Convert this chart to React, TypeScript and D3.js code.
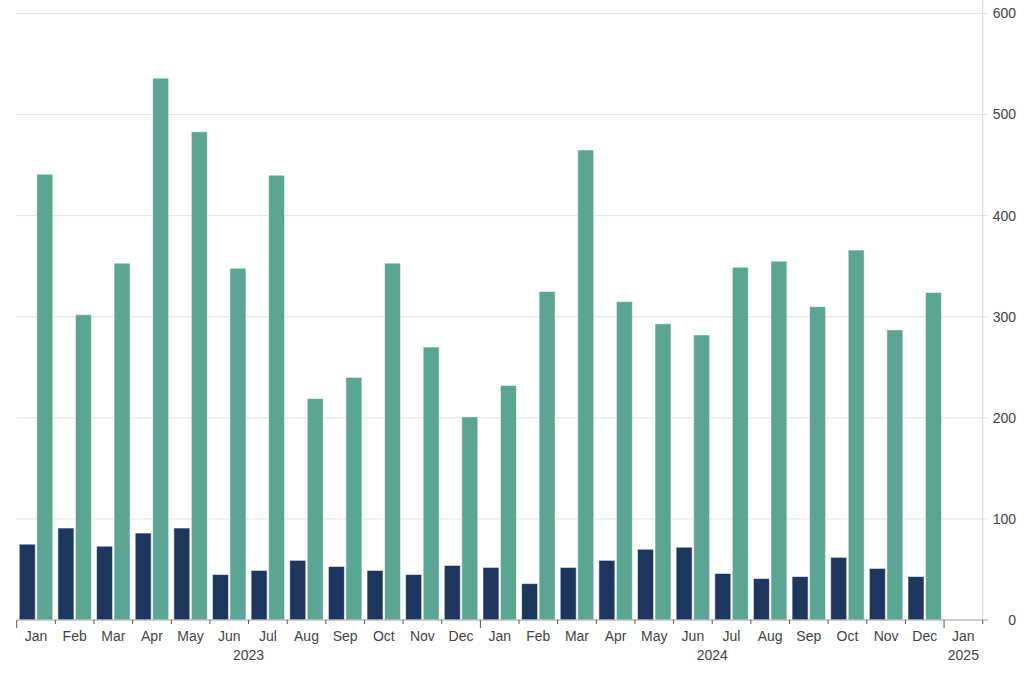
import React from "react";
import * as d3 from "d3";

const months = ["Jan","Feb","Mar","Apr","May","Jun","Jul","Aug","Sep","Oct","Nov","Dec"];
const years = ["2023","2024"];
const slotKeys: string[] = [];
years.forEach(y => months.forEach(m => slotKeys.push(`${m} ${y}`)));
slotKeys.push("Jan 2025");

const seriesA = [75,91,73,86,91,45,49,59,53,49,45,54, 52,36,52,59,70,72,46,41,43,62,51,43];
const seriesB = [441,302,353,536,483,348,440,219,240,353,270,201, 232,325,465,315,293,282,349,355,310,366,287,324];
const yTicks = [0,100,200,300,400,500,600];
const yearLabels = [
  { label: "2023", from: 0, to: 12 },
  { label: "2024", from: 12, to: 24 },
  { label: "2025", from: 24, to: 25 },
];

const W = 1024, H = 675;
const left = 16.7, right = 982.7, top = 13.5, bottom = 620;
const colorA = "#1d365e";
const colorB = "#5ba593";
const textColor = "#444";
const font = "'Liberation Sans', Arial, sans-serif";

export default function App() {
  const x = d3.scaleBand<string>().domain(slotKeys).range([left, right]).padding(0);
  const inner = d3.scaleBand<string>().domain(["a","b"]).range([0, x.bandwidth()]).paddingInner(0.0857).paddingOuter(0.147);
  const y = d3.scaleLinear().domain([0, 600]).range([bottom, top]);

  const bars: JSX.Element[] = [];
  seriesA.forEach((v, i) => {
    const k = slotKeys[i];
    const x0 = x(k)!;
    bars.push(<rect key={"a"+i} x={x0 + inner("a")!} y={y(v)} width={inner.bandwidth()} height={bottom - y(v)} fill={colorA} stroke="rgba(255,255,255,0.55)" strokeWidth={1} />);
    const vb = seriesB[i];
    bars.push(<rect key={"b"+i} x={x0 + inner("b")!} y={y(vb)} width={inner.bandwidth()} height={bottom - y(vb)} fill={colorB} stroke="rgba(255,255,255,0.55)" strokeWidth={1} />);
  });

  return (
    <svg width={W} height={H} style={{ position: "absolute", left: 0, top: 0, background: "#fff" }} fontFamily={font}>
      {yTicks.map(t => (
        <g key={t}>
          <line x1={left} x2={right + 5} y1={y(t)} y2={y(t)} stroke={t === 0 ? "#bbb" : "#e2e2e2"} strokeWidth={1} />
          <text x={1016} y={y(t)} dy="0.35em" textAnchor="end" fontSize={14} fill={textColor}>{t}</text>
        </g>
      ))}
      <line x1={right} x2={right} y1={0} y2={bottom} stroke="#d6d6d6" strokeWidth={1} />
      {bars}
      <line x1={left} x2={right + 5} y1={bottom} y2={bottom} stroke="#bbb" strokeWidth={1} />
      {slotKeys.map((k, i) => {
        const x0 = x(k)!;
        const isYear = i % 12 === 0;
        return (
          <g key={k}>
            <line x1={x0} x2={x0} y1={bottom} y2={bottom + (isYear ? 8 : 4)} stroke="#555" strokeWidth={1} />
            <text x={x0 + x.bandwidth() / 2} y={641} textAnchor="middle" fontSize={14} fill={textColor}>{k.split(" ")[0]}</text>
          </g>
        );
      })}
      <line x1={right} x2={right} y1={bottom} y2={bottom + 4} stroke="#555" strokeWidth={1} />
      {yearLabels.map(yl => {
        const x0 = x(slotKeys[yl.from])!;
        const x1 = yl.to < slotKeys.length ? x(slotKeys[yl.to])! : right;
        return <text key={yl.label} x={(x0 + x1) / 2} y={660} textAnchor="middle" fontSize={14} fill={textColor}>{yl.label}</text>;
      })}
    </svg>
  );
}
